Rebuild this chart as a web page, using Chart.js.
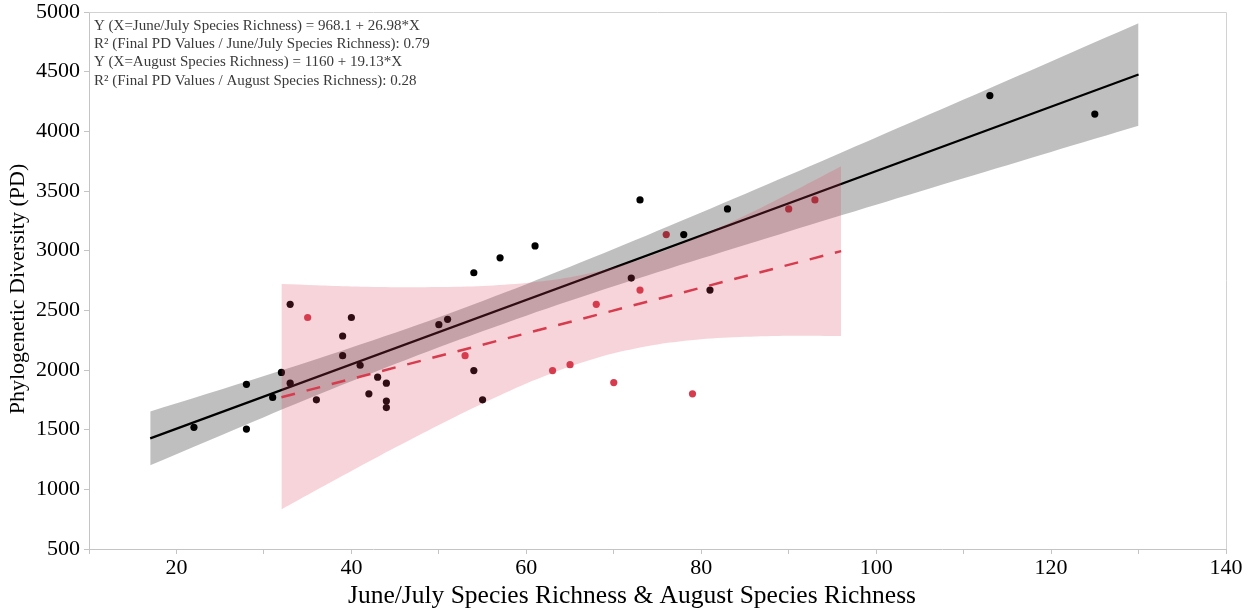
<!DOCTYPE html>
<html>
<head>
<meta charset="utf-8">
<title>Phylogenetic Diversity vs Species Richness</title>
<script src="https://cdn.jsdelivr.net/npm/chart.js@4.4.0/dist/chart.umd.min.js"></script>
<style>
    html, body { margin: 0; padding: 0; background: #fff; }
    #wrap { width: 1244px; height: 611px; }
</style>
</head>
<body>
<div id="wrap"><canvas id="pdChart" width="1244" height="611"></canvas></div>
<script>
// June/July species richness vs final PD values
const juneJulyRichness = [22, 28, 28, 31, 32, 33, 33, 36, 39, 39, 40, 41, 42, 43, 44, 44, 44, 50, 51, 54, 54, 55, 57, 61, 72, 73, 78, 81, 83, 113, 125];
const juneJulyPD = [1520, 1880, 1505, 1770, 1980, 2550, 1890, 1750, 2285, 2120, 2440, 2040, 1800, 1940, 1890, 1740, 1685, 2380, 2425, 1995, 2815, 1750, 2940, 3040, 2770, 3425, 3135, 2670, 3350, 4300, 4145];

// August species richness vs final PD values
const augustRichness = [35, 53, 63, 65, 68, 70, 73, 76, 79, 90, 93];
const augustPD = [2440, 2120, 1995, 2045, 2550, 1895, 2670, 3135, 1800, 3350, 3425];

// fitted lines (ends)
const fitJuneJulyX = [17, 130];
const fitJuneJulyY = [1427, 4476];
const fitAugustX = [32, 96];
const fitAugustY = [1772, 2996];

// confidence bands of the fits
const bandJuneJulyX = [17, 30, 40, 50, 60, 70, 80, 90, 100, 110, 120, 130];
const bandJuneJulyLow = [1201, 1605, 1905, 2191, 2455, 2701, 2934, 3161, 3384, 3606, 3827, 4046];
const bandJuneJulyHigh = [1653, 1950, 2189, 2443, 2719, 3013, 3319, 3631, 3948, 4266, 4585, 4905];
const bandAugustX = [32, 36, 40, 45, 50, 55, 60, 65, 70, 75, 80, 85, 90, 96];
const bandAugustLow = [832, 994, 1153, 1350, 1540, 1720, 1887, 2029, 2140, 2214, 2257, 2278, 2287, 2285];
const bandAugustHigh = [2720, 2710, 2700, 2694, 2695, 2704, 2729, 2777, 2858, 2976, 3124, 3294, 3477, 3707];

// axis ticks
const xTicks = [20, 40, 60, 80, 100, 120, 140];
const yTicks = [500, 1000, 1500, 2000, 2500, 3000, 3500, 4000, 4500, 5000];

const fitLabels = [
    'Y (X=June/July Species Richness) = 968.1 + 26.98*X',
    'R² (Final PD Values / June/July Species Richness): 0.79',
    'Y (X=August Species Richness) = 1160 + 19.13*X',
    'R² (Final PD Values / August Species Richness): 0.28'
];
const xTitle = 'June/July Species Richness & August Species Richness';
const yTitle = 'Phylogenetic Diversity (PD)';

const SERIF = '"Liberation Serif", "Times New Roman", serif';
const RED = 'rgb(215, 60, 78)';
const AXIS_GREY = '#c4c4c4';

function zipPoints(xs, ys) {
    return xs.map((x, i) => ({ x: x, y: ys[i] }));
}

// top/right frame, fit text in the corner and both axis titles
const framePlugin = {
    id: 'frame',
    afterDraw(chart) {
        const { ctx, chartArea } = chart;
        ctx.save();
        ctx.strokeStyle = '#d2d2d2';
        ctx.lineWidth = 1;
        ctx.beginPath();
        ctx.moveTo(chartArea.left, chartArea.top + 0.5);
        ctx.lineTo(chartArea.right + 0.5, chartArea.top + 0.5);
        ctx.lineTo(chartArea.right + 0.5, chartArea.bottom);
        ctx.stroke();

        ctx.fillStyle = '#3a3a3a';
        ctx.font = '15px ' + SERIF;
        ctx.textAlign = 'left';
        ctx.textBaseline = 'alphabetic';
        fitLabels.forEach((txt, i) => {
            ctx.fillText(txt, chartArea.left + 5, 30 + i * 18.2);
        });

        // axis titles (the original sits a little off the plot centre)
        ctx.fillStyle = '#000';
        ctx.textAlign = 'center';
        ctx.textBaseline = 'middle';
        ctx.font = '25.5px ' + SERIF;
        ctx.fillText(xTitle, 632, 596);
        ctx.translate(18, 289);
        ctx.rotate(-Math.PI / 2);
        ctx.font = '22px ' + SERIF;
        ctx.fillText(yTitle, 0, 0);
        ctx.restore();
    }
};

const ctx = document.getElementById('pdChart');
new Chart(ctx, {
    type: 'scatter',
    data: {
        datasets: [
            {
                label: 'June/July',
                data: zipPoints(juneJulyRichness, juneJulyPD),
                backgroundColor: '#000',
                borderWidth: 0,
                pointRadius: 3.6,
                order: 10
            },
            {
                label: 'August',
                data: zipPoints(augustRichness, augustPD),
                backgroundColor: RED,
                borderWidth: 0,
                pointRadius: 3.6,
                order: 9
            },
            {
                type: 'line',
                label: 'June/July fit',
                data: zipPoints(fitJuneJulyX, fitJuneJulyY),
                borderColor: '#000',
                borderWidth: 2.2,
                pointRadius: 0,
                fill: false,
                order: 8
            },
            {
                type: 'line',
                label: 'June/July band low',
                data: zipPoints(bandJuneJulyX, bandJuneJulyLow),
                borderWidth: 0,
                borderColor: 'rgba(0,0,0,0)',
                pointRadius: 0,
                tension: 0.3,
                fill: false,
                order: 7
            },
            {
                type: 'line',
                label: 'June/July band high',
                data: zipPoints(bandJuneJulyX, bandJuneJulyHigh),
                borderWidth: 0,
                borderColor: 'rgba(0,0,0,0)',
                backgroundColor: 'rgba(0,0,0,0.25)',
                pointRadius: 0,
                tension: 0.3,
                fill: 3,
                order: 6
            },
            {
                type: 'line',
                label: 'August band low',
                data: zipPoints(bandAugustX, bandAugustLow),
                borderWidth: 0,
                borderColor: 'rgba(0,0,0,0)',
                pointRadius: 0,
                tension: 0.3,
                fill: false,
                order: 5
            },
            {
                type: 'line',
                label: 'August band high',
                data: zipPoints(bandAugustX, bandAugustHigh),
                borderWidth: 0,
                borderColor: 'rgba(0,0,0,0)',
                backgroundColor: 'rgba(220, 60, 80, 0.22)',
                pointRadius: 0,
                tension: 0.3,
                fill: 5,
                order: 4
            },
            {
                type: 'line',
                label: 'August fit',
                data: zipPoints(fitAugustX, fitAugustY),
                borderColor: RED,
                borderWidth: 2.5,
                borderDash: [14, 12],
                pointRadius: 0,
                fill: false,
                order: 1
            }
        ]
    },
    options: {
        responsive: false,
        animation: false,
        devicePixelRatio: 1,
        layout: { padding: { top: 12, right: 18, left: 0, bottom: 0 } },
        plugins: {
            legend: { display: false },
            tooltip: { enabled: false }
        },
        scales: {
            x: {
                type: 'linear',
                min: 10,
                max: 140,
                afterBuildTicks: (scale) => {
                    const t = [];
                    for (let v = 10; v <= 140; v += 10) t.push({ value: v });
                    scale.ticks = t;
                },
                afterFit: (scale) => {
                    scale.height = 62;
                    scale.paddingLeft = 0;
                    scale.paddingRight = 0;
                },
                ticks: {
                    autoSkip: false,
                    maxRotation: 0,
                    padding: 3,
                    color: '#000',
                    font: { family: SERIF, size: 22, lineHeight: 1 },
                    callback: (v) => xTicks.includes(v) ? String(v) : ''
                },
                grid: { drawOnChartArea: false, drawTicks: true, tickLength: 5, color: AXIS_GREY },
                border: { color: AXIS_GREY, width: 1 },
                title: { display: false }
            },
            y: {
                min: 500,
                max: 5000,
                afterBuildTicks: (scale) => {
                    scale.ticks = yTicks.map(v => ({ value: v }));
                },
                afterFit: (scale) => {
                    scale.width = 89;
                    scale.paddingTop = 0;
                    scale.paddingBottom = 0;
                },
                ticks: {
                    padding: 4,
                    color: '#000',
                    font: { family: SERIF, size: 22, lineHeight: 1 },
                    callback: (v) => String(v)
                },
                grid: { drawOnChartArea: false, drawTicks: true, tickLength: 5, color: AXIS_GREY },
                border: { color: AXIS_GREY, width: 1 },
                title: { display: false }
            }
        }
    },
    plugins: [framePlugin]
});
</script>
</body>
</html>
